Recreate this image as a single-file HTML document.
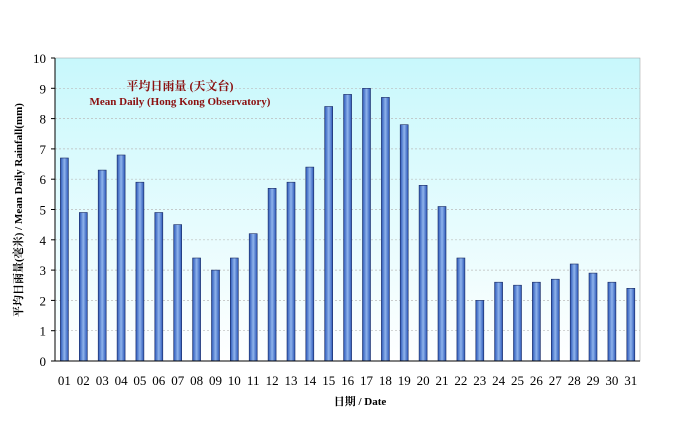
<!DOCTYPE html>
<html><head><meta charset="utf-8"><style>body{margin:0;background:#fff}</style></head><body>
<svg width="684" height="420" xmlns="http://www.w3.org/2000/svg" font-family="Liberation Serif, Noto Serif CJK SC, serif">
<defs>
<linearGradient id="bg" x1="0" y1="0" x2="0" y2="1"><stop offset="0" stop-color="#c8f8fc"/><stop offset="1" stop-color="#ffffff"/></linearGradient>
<linearGradient id="bar" x1="0" y1="0" x2="1" y2="0"><stop offset="0" stop-color="#2a56b8"/><stop offset="0.5" stop-color="#8fb4ec"/><stop offset="1" stop-color="#2a56b8"/></linearGradient>
</defs>
<rect x="55" y="58" width="585" height="303" fill="url(#bg)" stroke="#999" stroke-width="0.5"/>
<g stroke="#bbb" stroke-dasharray="2,2" stroke-width="0.7">
<line x1="55" x2="640" y1="330.7" y2="330.7"/><line x1="55" x2="640" y1="300.4" y2="300.4"/><line x1="55" x2="640" y1="270.1" y2="270.1"/><line x1="55" x2="640" y1="239.8" y2="239.8"/><line x1="55" x2="640" y1="209.5" y2="209.5"/><line x1="55" x2="640" y1="179.2" y2="179.2"/><line x1="55" x2="640" y1="148.9" y2="148.9"/><line x1="55" x2="640" y1="118.6" y2="118.6"/><line x1="55" x2="640" y1="88.3" y2="88.3"/>
</g>
<g font-size="13" text-anchor="end">
<text x="46" y="366">0</text><text x="46" y="335.7">1</text><text x="46" y="305.4">2</text><text x="46" y="275.1">3</text><text x="46" y="244.8">4</text><text x="46" y="214.5">5</text><text x="46" y="184.2">6</text><text x="46" y="153.9">7</text><text x="46" y="123.6">8</text><text x="46" y="93.3">9</text><text x="46" y="63">10</text>
</g>
<g stroke="#000">
<line x1="51" x2="55" y1="361" y2="361"/><line x1="51" x2="55" y1="330.7" y2="330.7"/><line x1="51" x2="55" y1="300.4" y2="300.4"/><line x1="51" x2="55" y1="270.1" y2="270.1"/><line x1="51" x2="55" y1="239.8" y2="239.8"/><line x1="51" x2="55" y1="209.5" y2="209.5"/><line x1="51" x2="55" y1="179.2" y2="179.2"/><line x1="51" x2="55" y1="148.9" y2="148.9"/><line x1="51" x2="55" y1="118.6" y2="118.6"/><line x1="51" x2="55" y1="88.3" y2="88.3"/><line x1="51" x2="55" y1="58" y2="58"/>
</g>
<g fill="url(#bar)" stroke="#1a2a60" stroke-width="0.6">
<rect x="60.4" y="158.0" width="8" height="203.0"/>
<rect x="79.3" y="212.5" width="8" height="148.5"/>
<rect x="98.2" y="170.1" width="8" height="190.9"/>
<rect x="117.1" y="155.0" width="8" height="206.0"/>
<rect x="135.9" y="182.2" width="8" height="178.8"/>
<rect x="154.8" y="212.5" width="8" height="148.5"/>
<rect x="173.7" y="224.6" width="8" height="136.4"/>
<rect x="192.6" y="258.0" width="8" height="103.0"/>
<rect x="211.5" y="270.1" width="8" height="90.9"/>
<rect x="230.3" y="258.0" width="8" height="103.0"/>
<rect x="249.2" y="233.7" width="8" height="127.3"/>
<rect x="268.1" y="188.3" width="8" height="172.7"/>
<rect x="287.0" y="182.2" width="8" height="178.8"/>
<rect x="305.8" y="167.1" width="8" height="193.9"/>
<rect x="324.7" y="106.5" width="8" height="254.5"/>
<rect x="343.6" y="94.4" width="8" height="266.6"/>
<rect x="362.5" y="88.3" width="8" height="272.7"/>
<rect x="381.4" y="97.4" width="8" height="263.6"/>
<rect x="400.2" y="124.7" width="8" height="236.3"/>
<rect x="419.1" y="185.3" width="8" height="175.7"/>
<rect x="438.0" y="206.5" width="8" height="154.5"/>
<rect x="456.9" y="258.0" width="8" height="103.0"/>
<rect x="475.8" y="300.4" width="8" height="60.6"/>
<rect x="494.6" y="282.2" width="8" height="78.8"/>
<rect x="513.5" y="285.2" width="8" height="75.8"/>
<rect x="532.4" y="282.2" width="8" height="78.8"/>
<rect x="551.3" y="279.2" width="8" height="81.8"/>
<rect x="570.2" y="264.0" width="8" height="97.0"/>
<rect x="589.0" y="273.1" width="8" height="87.9"/>
<rect x="607.9" y="282.2" width="8" height="78.8"/>
<rect x="626.8" y="288.3" width="8" height="72.7"/>
</g>
<g font-size="13" text-anchor="middle">
<text x="64.4" y="385">01</text><text x="83.3" y="385">02</text><text x="102.2" y="385">03</text><text x="121.1" y="385">04</text><text x="139.9" y="385">05</text><text x="158.8" y="385">06</text><text x="177.7" y="385">07</text><text x="196.6" y="385">08</text><text x="215.5" y="385">09</text><text x="234.3" y="385">10</text><text x="253.2" y="385">11</text><text x="272.1" y="385">12</text><text x="291.0" y="385">13</text><text x="309.8" y="385">14</text><text x="328.7" y="385">15</text><text x="347.6" y="385">16</text><text x="366.5" y="385">17</text><text x="385.4" y="385">18</text><text x="404.2" y="385">19</text><text x="423.1" y="385">20</text><text x="442.0" y="385">21</text><text x="460.9" y="385">22</text><text x="479.8" y="385">23</text><text x="498.6" y="385">24</text><text x="517.5" y="385">25</text><text x="536.4" y="385">26</text><text x="555.3" y="385">27</text><text x="574.2" y="385">28</text><text x="593.0" y="385">29</text><text x="611.9" y="385">30</text><text x="630.8" y="385">31</text>
</g>
<g stroke="#000">
<line x1="55" x2="640" y1="361" y2="361"/><line x1="55" x2="55" y1="58" y2="361"/>
</g>
<text x="180" y="90" font-size="12" fill="#8b1010" text-anchor="middle" font-weight="bold" font-family="Liberation Serif, Noto Serif CJK TC, serif">平均日雨量 (天文台)</text>
<text x="180" y="105" font-size="11" fill="#8b1010" text-anchor="middle" font-weight="bold">Mean Daily (Hong Kong Observatory)</text>
<text x="360" y="405" font-size="11" text-anchor="middle" font-weight="bold" font-family="Liberation Serif, Noto Serif CJK TC, serif">日期 / Date</text>
<text transform="translate(22,210) rotate(-90)" font-size="11" text-anchor="middle" font-weight="bold" font-family="Liberation Serif, Noto Serif CJK TC, serif">平均日雨量(毫米) / Mean Daily Rainfall(mm)</text>
</svg>
</body></html>
